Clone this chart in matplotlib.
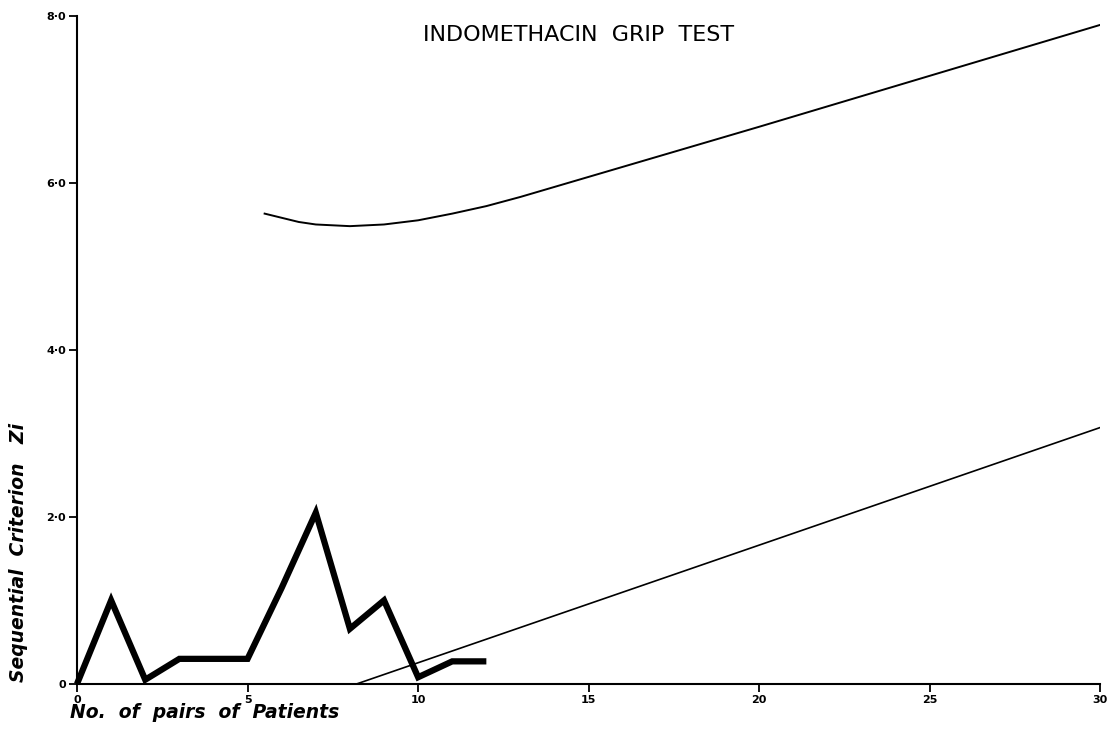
import matplotlib
matplotlib.use('Agg')
from matplotlib import pyplot as plt

# sequential path (pairs of patients vs criterion Zi)
pairs = [0, 1, 2, 3, 4, 5, 6, 7, 8, 9, 10, 11, 12]
zi = [0.0, 1.0, 0.05, 0.3, 0.3, 0.3, 1.15, 2.05, 0.66, 1.0, 0.08, 0.27, 0.27]

# upper boundary curve
upper_x = [5.5, 6, 6.5, 7, 8, 9, 10, 11, 12, 13, 14, 15, 17, 20, 25, 30]
upper_y = [5.63, 5.58, 5.53, 5.50, 5.48, 5.50, 5.55, 5.63, 5.72, 5.83, 5.95,
           6.07, 6.31, 6.67, 7.28, 7.89]

# lower boundary line
lower_x = [8.2, 30]
lower_y = [0.0, 3.07]

x_ticks = [0, 5, 10, 15, 20, 25, 30]
x_labels = ['0', '5', '10', '15', '20', '25', '30']
y_ticks = [0, 2, 4, 6, 8]
y_labels = ['0', '2·0', '4·0', '6·0', '8·0']

fig = plt.figure(figsize=(11.16, 7.45), dpi=100)
ax = fig.add_axes([0.069, 0.082, 0.917, 0.897])

ax.plot(upper_x, upper_y, color='black', linewidth=1.4)
ax.plot(lower_x, lower_y, color='black', linewidth=1.2)
ax.plot(pairs, zi, color='black', linewidth=4.5, solid_joinstyle='miter',
        solid_capstyle='butt', clip_on=False)

ax.set_xlim(0, 30)
ax.set_ylim(0, 8)
ax.spines['top'].set_visible(False)
ax.spines['right'].set_visible(False)
ax.spines['left'].set_linewidth(1.5)
ax.spines['bottom'].set_linewidth(1.5)

ax.set_xticks(x_ticks)
ax.set_xticklabels(x_labels, fontsize=8, fontweight='bold')
ax.set_yticks(y_ticks)
ax.set_yticklabels(y_labels, fontsize=8, fontweight='bold')
ax.tick_params(direction='out', length=6, width=1.3, pad=2)

fig.text(0.518, 0.953, 'INDOMETHACIN  GRIP  TEST', ha='center', va='center',
         fontsize=16)
fig.text(0.063, 0.043, 'No.  of  pairs  of  Patients', ha='left', va='center',
         fontsize=13.5, fontstyle='italic', fontweight='bold')
fig.text(0.017, 0.258, 'Sequential  Criterion   Zi', ha='center', va='center',
         rotation=90, fontsize=13.5, fontstyle='italic', fontweight='bold')

plt.savefig('out.png', dpi=100)
